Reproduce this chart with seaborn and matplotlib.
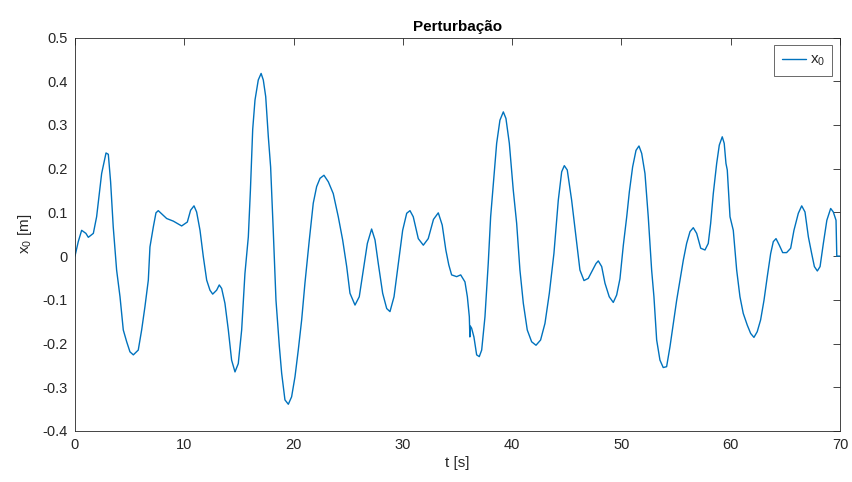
#!/usr/bin/env python3
# Imports
import matplotlib
matplotlib.use('Agg')
import matplotlib.pyplot as plt
import seaborn as sns
import pandas as pd

# Data
time_s = [
    0.0, 0.3, 0.61, 1.0, 1.22, 1.68, 1.98, 2.44, 2.84, 3.05, 3.26, 3.5, 3.81,
    4.12, 4.42, 4.73, 5.03, 5.34, 5.79, 6.1, 6.4, 6.71, 6.86, 7.17, 7.41, 7.62,
    8.39, 9.0, 9.76, 10.28, 10.58, 10.89, 11.13, 11.44, 11.74, 12.05, 12.35,
    12.6, 12.96, 13.2, 13.42, 13.72, 14.03, 14.33, 14.64, 14.94, 15.25, 15.55,
    15.86, 16.05, 16.26, 16.47, 16.77, 17.03, 17.23, 17.45, 17.69, 17.9, 18.14,
    18.39, 18.7, 18.91, 19.21, 19.52, 19.82, 20.13, 20.43, 20.74, 21.04, 21.44,
    21.8, 22.11, 22.42, 22.78, 23.18, 23.63, 24.09, 24.49, 24.86, 25.16, 25.62,
    26.01, 26.38, 26.75, 27.14, 27.45, 27.75, 28.15, 28.52, 28.82, 29.19, 29.58,
    29.98, 30.35, 30.65, 30.95, 31.41, 31.87, 32.32, 32.8, 33.24, 33.6, 33.93,
    34.2, 34.46, 34.92, 35.29, 35.68, 35.9, 36.08, 36.13, 36.17, 36.29, 36.5,
    36.75, 36.99, 37.21, 37.51, 37.81, 38.03, 38.33, 38.58, 38.88, 39.19, 39.43,
    39.74, 40.1, 40.41, 40.71, 41.02, 41.38, 41.78, 42.18, 42.6, 43.0, 43.4,
    43.82, 44.22, 44.53, 44.77, 45.04, 45.44, 45.84, 46.2, 46.57, 46.96, 47.36,
    47.67, 47.88, 48.19, 48.49, 48.88, 49.25, 49.56, 49.86, 50.17, 50.48, 50.72,
    51.02, 51.33, 51.6, 51.85, 52.15, 52.45, 52.76, 52.97, 53.22, 53.52, 53.82,
    54.13, 54.44, 54.74, 55.05, 55.35, 55.66, 55.96, 56.27, 56.57, 56.88, 57.25,
    57.64, 57.94, 58.16, 58.4, 58.71, 58.95, 59.22, 59.4, 59.56, 59.68, 59.93,
    60.23, 60.54, 60.84, 61.14, 61.51, 61.82, 62.12, 62.42, 62.73, 63.04, 63.34,
    63.65, 63.89, 64.14, 64.44, 64.75, 65.11, 65.48, 65.78, 66.18, 66.49, 66.79,
    67.1, 67.4, 67.65, 67.92, 68.17, 68.47, 68.79, 69.14, 69.38, 69.63, 69.7,
    70.0,
]
x0_m = [
    0.0, 0.033, 0.059, 0.052, 0.043, 0.052, 0.090, 0.189, 0.236, 0.233, 0.17,
    0.067, -0.032, -0.093, -0.169, -0.196, -0.219, -0.226, -0.215, -0.169,
    -0.116, -0.055, 0.021, 0.067, 0.099, 0.104, 0.086, 0.080, 0.069, 0.078,
    0.105, 0.115, 0.101, 0.059, -0.001, -0.055, -0.078, -0.087, -0.078, -0.066,
    -0.074, -0.108, -0.169, -0.238, -0.265, -0.246, -0.169, -0.040, 0.044,
    0.150, 0.290, 0.357, 0.403, 0.418, 0.403, 0.365, 0.273, 0.204, 0.059,
    -0.101, -0.207, -0.268, -0.329, -0.339, -0.322, -0.276, -0.215, -0.146,
    -0.062, 0.037, 0.121, 0.159, 0.178, 0.185, 0.170, 0.143, 0.090, 0.037,
    -0.024, -0.085, -0.112, -0.093, -0.032, 0.029, 0.062, 0.037, -0.017,
    -0.085, -0.120, -0.127, -0.093, -0.017, 0.059, 0.098, 0.104, 0.090, 0.040,
    0.025, 0.040, 0.084, 0.099, 0.071, 0.014, -0.020, -0.043, -0.047, -0.043,
    -0.059, -0.093, -0.139, -0.185, -0.160, -0.165, -0.185, -0.226, -0.230,
    -0.215, -0.139, -0.017, 0.090, 0.181, 0.258, 0.311, 0.330, 0.315, 0.258,
    0.151, 0.075, -0.032, -0.108, -0.169, -0.196, -0.204, -0.192, -0.154,
    -0.085, 0.006, 0.128, 0.193, 0.207, 0.197, 0.128, 0.044, -0.032, -0.056,
    -0.051, -0.032, -0.017, -0.011, -0.024, -0.062, -0.093, -0.106, -0.089,
    -0.052, 0.025, 0.090, 0.147, 0.204, 0.242, 0.252, 0.235, 0.189, 0.090,
    -0.032, -0.093, -0.192, -0.238, -0.255, -0.253, -0.207, -0.154, -0.101,
    -0.055, -0.009, 0.029, 0.056, 0.065, 0.052, 0.018, 0.014, 0.029, 0.075,
    0.143, 0.212, 0.254, 0.273, 0.258, 0.212, 0.197, 0.090, 0.059, -0.032,
    -0.093, -0.131, -0.158, -0.177, -0.186, -0.173, -0.146, -0.101, -0.047,
    0.006, 0.033, 0.040, 0.025, 0.008, 0.008, 0.018, 0.059, 0.098, 0.115,
    0.101, 0.044, 0.006, -0.024, -0.034, -0.024, 0.029, 0.082, 0.109, 0.101,
    0.082, 0.0, 0.0,
]

x_ticks = [0, 10, 20, 30, 40, 50, 60, 70]
y_ticks = [-0.4, -0.3, -0.2, -0.1, 0, 0.1, 0.2, 0.3, 0.4, 0.5]
y_tick_labels = ['-0.4', '-0.3', '-0.2', '-0.1', '0', '0.1', '0.2', '0.3', '0.4', '0.5']

AX_COLOR = '#262626'
LINE_COLOR = '#0072BD'


def main():
    perturb_df = pd.DataFrame({'t': time_s, 'x0': x0_m})

    # Style first, fonts after
    sns.set_style('white')
    plt.rcParams['font.family'] = ['Liberation Sans', 'DejaVu Sans']
    plt.rcParams['mathtext.fontset'] = 'custom'
    plt.rcParams['mathtext.rm'] = 'Liberation Sans'
    plt.rcParams['mathtext.it'] = 'Liberation Sans'

    fig = plt.figure(figsize=(8.52, 4.82), dpi=100)
    ax = fig.add_axes([0.088, 0.106, 0.898, 0.816])

    sns.lineplot(
        data=perturb_df, x='t', y='x0', ax=ax,
        color=LINE_COLOR, linewidth=1.0, sort=False, estimator=None,
        label='x$_0$'
    )

    # Limits and ticks
    ax.set_xlim(0, 70)
    ax.set_ylim(-0.4, 0.5)
    ax.set_xticks(x_ticks)
    ax.set_yticks(y_ticks)
    ax.set_yticklabels(y_tick_labels)
    ax.tick_params(direction='in', length=5, width=0.6, colors=AX_COLOR,
                   labelsize=10.5, top=True, right=True, pad=5)

    for spine in ax.spines.values():
        spine.set_color(AX_COLOR)
        spine.set_linewidth(0.6)
        spine.set_visible(True)

    # Labels
    ax.set_xlabel('t [s]', fontsize=11, color=AX_COLOR, labelpad=3)
    ax.set_ylabel('x$_0$ [m]', fontsize=11, color=AX_COLOR, labelpad=6)
    ax.set_title('Perturbação', fontsize=11, fontweight='bold', color='black', pad=5)

    # Legend
    leg = ax.legend(loc='upper right', fontsize=11, frameon=True, fancybox=False,
                    handlelength=1.6, handletextpad=0.2, borderpad=0.5,
                    borderaxespad=0.5)
    leg.get_frame().set_edgecolor(AX_COLOR)
    leg.get_frame().set_linewidth(0.6)

    fig.savefig('out.png', dpi=100)


if __name__ == "__main__":
    main()
